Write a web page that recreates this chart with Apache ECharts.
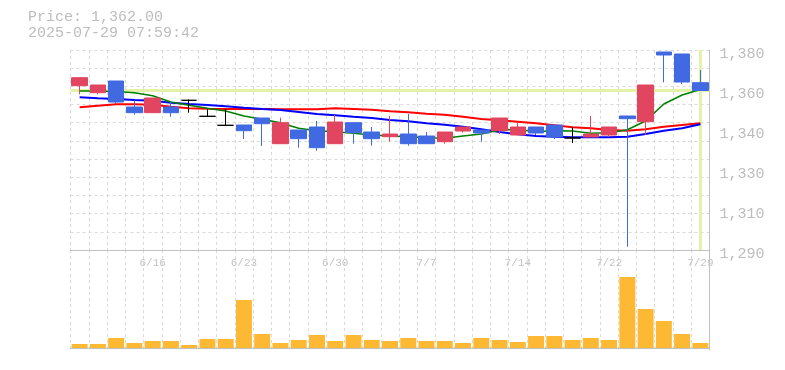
<!DOCTYPE html>
<html><head><meta charset="utf-8">
<script src="https://cdn.jsdelivr.net/npm/echarts@6/dist/echarts.min.js"></script>
<style>html,body{margin:0;padding:0;background:#fff}#c{width:785px;height:370px}</style>
</head><body><div id="c"></div>
<script>
const titleLines = ['Price: 1,362.00', '2025-07-29 07:59:42'];
const lastPrice = 1362;
const dates = ['6/10','6/11','6/12','6/13','6/16','6/17','6/18','6/19','6/20','6/23','6/24','6/25','6/26','6/27','6/30','7/1','7/2','7/3','7/4','7/7','7/8','7/9','7/10','7/11','7/14','7/15','7/16','7/17','7/18','7/22','7/23','7/24','7/25','7/28','7/29'];
const opens  = [1364.4,1360.9,1366.75,1353.75,1350.9,1353.75,1357.1,1349.1,1344.6,1344.75,1348.25,1335.4,1342.25,1343.75,1335.4,1345.9,1341.25,1338.9,1340.25,1339.25,1336.4,1341.75,1342.25,1341.9,1339.75,1343.75,1344.75,1338.25,1338.75,1339.75,1349.25,1346.4,1381.25,1380.25,1365.9];
const closes = [1368.4,1364.75,1356.25,1350.9,1358.25,1350.9,1357.1,1349.1,1344.6,1341.9,1345.4,1345.9,1337.9,1333.4,1346.25,1340.9,1337.9,1340.25,1335.4,1335.4,1341.25,1343.75,1340.75,1348.25,1343.75,1340.75,1338.75,1338.25,1340.25,1343.75,1347.9,1364.75,1379.75,1366.25,1362];
const lows   = [1360.1,1360.1,1355.4,1349.9,1350.9,1348.9,1350.9,1349.1,1344.6,1337.75,1334.25,1335.4,1333.4,1331.9,1335.4,1335.4,1334.4,1336.4,1334.4,1335.4,1335.4,1340.9,1336.4,1340.25,1339.75,1339.75,1337.75,1335.75,1338.75,1338.75,1283.9,1339.75,1366.1,1365.25,1362];
const highs  = [1368.4,1364.75,1366.75,1357.1,1358.25,1356.25,1357.5,1352.6,1352.6,1344.75,1348.25,1348.4,1342.25,1346.75,1349.75,1345.9,1343.75,1349.25,1350.25,1341.25,1341.25,1343.75,1342.25,1348.25,1345.9,1343.75,1344.75,1343.75,1349.25,1343.75,1349.25,1364.75,1381.25,1380.25,1372.25];
const maGreen = [1361.75,1361.75,1361.5,1360.9,1359.4,1356.25,1354.6,1353.1,1351.75,1349.25,1347.6,1345.8,1343.1,1341.9,1341.4,1340.6,1339.75,1339.25,1338.9,1338.4,1338.1,1339.25,1340.25,1342.25,1342.5,1341.4,1341.9,1341.75,1340.6,1340.9,1342.4,1346.75,1355.25,1359.75,1362.5];
const maBlue  = [1358.6,1358.1,1357.75,1357.25,1356.9,1355.9,1355.25,1354.75,1354.1,1353.4,1352.75,1352.25,1351.25,1350.25,1349.6,1348.9,1348.25,1347.25,1346.6,1345.6,1344.9,1343.9,1342.6,1341.25,1340.1,1339.25,1338.9,1338.6,1338.6,1338.6,1338.9,1340.25,1341.9,1343.1,1345.1];
const maRed   = [1353.6,1354.4,1355.1,1355.1,1354.9,1353.9,1353.1,1352.9,1352.75,1352.75,1352.75,1352.6,1352.6,1352.6,1353.1,1352.75,1352.4,1351.6,1351.1,1350.4,1349.9,1348.9,1347.75,1347.1,1346.4,1345.6,1344.6,1343.6,1343.1,1342.25,1341.9,1342.6,1343.9,1344.75,1345.6];
const volumes = [4,4,10,5,7,7,3,9,9,48,14,5,8,13,7,13,8,7,10,7,7,5,10,8,6,12,12,8,10,8,71,39,27,14,5];
const priceTickValues = [1280,1300,1320,1340,1360,1380];
const priceTickLabels = ['1,290','1,310','1,330','1,340','1,360','1,380'];

const UP = '#e1455f', DOWN = '#4169e1', VOL = '#fdb933';
const GRIDC = '#dadada', AXISC = '#c0c0c0', TXT = '#bdbdbd';
const FONT = "'Liberation Mono', 'DejaVu Sans Mono', monospace";
const dash = {color: GRIDC, type: [3, 3], width: 1};
const L = 70.5, R = 75.5;

const candles = dates.map((d, i) => [opens[i], closes[i], lows[i], highs[i]]);

const chart = echarts.init(document.getElementById('c'), null, {renderer: 'canvas'});
chart.setOption({
  animation: false,
  backgroundColor: '#fff',
  title: {
    text: titleLines.join('\n'), left: 28, top: 9, padding: 0,
    textStyle: {fontFamily: FONT, fontSize: 15, fontWeight: 'normal', color: TXT, lineHeight: 16}
  },
  grid: [
    {left: L, right: R, top: 50, height: 200, outerBoundsMode: 'none', containLabel: false},
    {left: L, right: R, top: 250, height: 100, outerBoundsMode: 'none', containLabel: false},
    {left: L, right: R, top: 50, height: 204.5, outerBoundsMode: 'none', containLabel: false}
  ],
  xAxis: [
    {gridIndex: 0, type: 'category', data: dates, boundaryGap: true,
     axisLine: {show: false}, axisTick: {show: false},
     axisLabel: {interval: (i) => i % 5 === 4, margin: 8, color: '#c4c4c4', fontFamily: FONT, fontSize: 11},
     splitLine: {show: true, interval: 0, lineStyle: dash}},
    {gridIndex: 1, type: 'category', data: dates, boundaryGap: true, position: 'bottom',
     axisLine: {show: true, lineStyle: {color: AXISC, width: 1}}, axisTick: {show: false}, axisLabel: {show: false},
     splitLine: {show: true, interval: 0, lineStyle: dash}},
    {gridIndex: 1, type: 'category', data: dates, boundaryGap: true, position: 'top',
     axisLine: {show: true, lineStyle: {color: AXISC, width: 1}}, axisTick: {show: false}, axisLabel: {show: false},
     splitLine: {show: false}},
    {gridIndex: 2, type: 'category', data: dates, show: false}
  ],
  yAxis: [
    {gridIndex: 0, type: 'value', position: 'right', min: 1282.25, max: 1382.25, scale: true,
     axisLine: {show: true, lineStyle: {color: AXISC, width: 1}}, axisTick: {show: false},
     axisLabel: {show: false}, splitLine: {show: false}},
    {gridIndex: 0, type: 'value', position: 'left', inverse: true, min: 0, max: 11, interval: 1,
     axisLine: {show: false}, axisTick: {show: false}, axisLabel: {show: false},
     splitLine: {show: true, lineStyle: dash}},
    {gridIndex: 1, type: 'value', position: 'right', min: -2, max: 98,
     axisLine: {show: true, lineStyle: {color: AXISC, width: 1}}, axisTick: {show: false},
     axisLabel: {show: false}, splitLine: {show: false}},
    {gridIndex: 2, type: 'value', position: 'right', min: 1280, max: 1382.25, interval: 20,
     axisLine: {show: false}, axisTick: {show: false}, splitLine: {show: false},
     axisLabel: {margin: 10, color: TXT, fontFamily: FONT, fontSize: 15, hideOverlap: false,
       formatter: (v) => {
         const k = priceTickValues.findIndex(t => Math.abs(t - v) < 0.01);
         return k >= 0 ? priceTickLabels[k] : '';
       }}}
  ],
  series: [
    {type: 'line', name: 'MA-red', xAxisIndex: 0, yAxisIndex: 0, data: maRed, symbol: 'none', showSymbol: false,
     lineStyle: {color: '#ff0000', width: 2}, z: 2, silent: true},
    {type: 'line', name: 'MA-blue', xAxisIndex: 0, yAxisIndex: 0, data: maBlue, symbol: 'none', showSymbol: false,
     lineStyle: {color: '#0000ff', width: 2}, z: 2, silent: true},
    {type: 'line', name: 'MA-green', xAxisIndex: 0, yAxisIndex: 0, data: maGreen, symbol: 'none', showSymbol: false,
     lineStyle: {color: '#008000', width: 1.6}, z: 2, silent: true},
    {type: 'candlestick', name: 'Price', xAxisIndex: 0, yAxisIndex: 0, data: candles, barWidth: 16, z: 3,
     itemStyle: {color: UP, color0: DOWN, borderColor: UP, borderColor0: DOWN, borderColorDoji: '#000000', borderWidth: 1},
     markLine: {
       z: 1, silent: true, symbol: ['none', 'none'], label: {show: false},
       lineStyle: {color: '#e3f2a8', width: 3, type: 'solid'},
       data: [{yAxis: lastPrice}, {xAxis: dates[dates.length - 1]}]
     }},
    {type: 'bar', name: 'Volume', xAxisIndex: 1, yAxisIndex: 2, data: volumes, barWidth: 16,
     itemStyle: {color: VOL}, silent: true}
  ]
});
</script>
</body></html>
